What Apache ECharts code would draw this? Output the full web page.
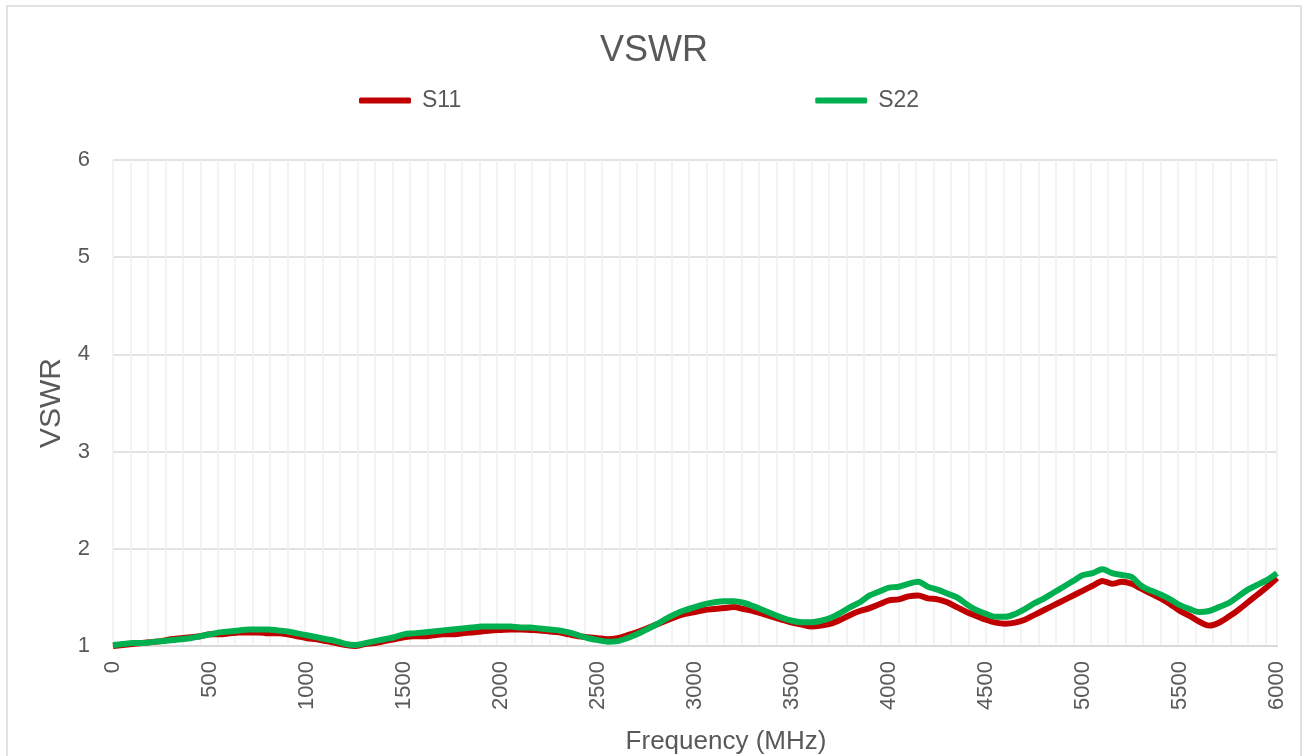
<!DOCTYPE html>
<html>
<head>
<meta charset="utf-8">
<script src="https://cdn.jsdelivr.net/npm/echarts@6/dist/echarts.min.js"></script>
<style>
html,body{margin:0;padding:0;background:#fff;}
#chart{width:1308px;height:756px;}
</style>
</head>
<body>
<div id="chart"></div>
<script>
// Frequency points (MHz), 50 MHz step
var freq = [];
for (var f = 0; f <= 6000; f += 50) freq.push(f);

var s11 = [
1.00,1.01,1.02,1.03,1.04,1.05,1.07,1.08,1.09,1.10,
1.12,1.12,1.13,1.14,1.14,1.14,1.13,1.13,1.12,1.10,
1.08,1.07,1.05,1.03,1.01,1.00,1.02,1.03,1.05,1.07,
1.09,1.10,1.10,1.11,1.12,1.12,1.13,1.14,1.15,1.16,
1.165,1.17,1.17,1.165,1.16,1.15,1.14,1.12,1.10,1.09,
1.08,1.07,1.08,1.11,1.14,1.18,1.22,1.26,1.30,1.33,
1.35,1.37,1.38,1.39,1.40,1.38,1.36,1.33,1.30,1.27,
1.24,1.22,1.20,1.21,1.23,1.27,1.32,1.36,1.39,1.43,
1.47,1.48,1.51,1.52,1.49,1.48,1.45,1.40,1.35,1.31,
1.27,1.24,1.23,1.24,1.27,1.32,1.37,1.42,1.47,1.52,
1.57,1.62,1.67,1.64,1.66,1.64,1.59,1.54,1.49,1.43,
1.36,1.31,1.25,1.21,1.24,1.30,1.37,1.45,1.53,1.61,
1.70
];

var s22 = [
1.01,1.02,1.03,1.03,1.04,1.05,1.06,1.07,1.08,1.10,
1.12,1.14,1.15,1.16,1.17,1.17,1.17,1.16,1.15,1.13,
1.11,1.09,1.07,1.05,1.02,1.01,1.03,1.05,1.07,1.09,
1.12,1.13,1.14,1.15,1.16,1.17,1.18,1.19,1.20,1.20,
1.20,1.20,1.19,1.19,1.18,1.17,1.16,1.14,1.11,1.08,
1.06,1.045,1.05,1.08,1.12,1.17,1.22,1.28,1.33,1.37,
1.40,1.43,1.45,1.46,1.46,1.445,1.41,1.37,1.33,1.29,
1.26,1.245,1.245,1.26,1.29,1.34,1.40,1.45,1.52,1.56,
1.60,1.61,1.64,1.66,1.61,1.58,1.54,1.50,1.43,1.37,
1.33,1.30,1.30,1.33,1.38,1.44,1.49,1.55,1.61,1.67,
1.73,1.75,1.79,1.75,1.73,1.71,1.62,1.57,1.53,1.48,
1.42,1.38,1.35,1.36,1.40,1.44,1.51,1.58,1.63,1.68,
1.75
];

var seriesNames = ['S11', 'S22'];
var seriesColors = ['#C00000', '#00B050'];

function pairs(vals) {
  return freq.map(function (x, i) { return [x, vals[i]]; });
}

var txt = '#595959';
var ff = 'Liberation Sans, Arial, sans-serif';
var chart = echarts.init(document.getElementById('chart'));
chart.setOption({
  animation: false,
  backgroundColor: '#ffffff',
  title: {
    text: 'VSWR',
    left: 'center',
    top: 28,
    textStyle: { color: txt, fontSize: 36, fontWeight: 'normal', fontFamily: ff }
  },
  graphic: [{
    type: 'rect',
    shape: { x: 7, y: 6, width: 1294, height: 760 },
    style: { fill: 'none', stroke: '#d9d9d9', lineWidth: 1.5 },
    silent: true,
    z: -10
  }],
  legend: {
    left: 354,
    top: 84,
    itemWidth: 52,
    itemHeight: 6,
    itemGap: 354,
    icon: 'roundRect',
    data: seriesNames,
    textStyle: { color: txt, fontSize: 23, fontFamily: ff, padding: [0, 0, 0, 6] }
  },
  grid: { left: 113, right: 31, top: 160, bottom: 110, containLabel: false, outerBoundsMode: 'none' },
  xAxis: [{
    type: 'value',
    min: 0, max: 6000, interval: 500,
    name: 'Frequency (MHz)',
    nameLocation: 'middle',
    nameGap: 83,
    nameTextStyle: { color: txt, fontSize: 26, fontFamily: ff, padding: [0, 0, 0, 62] },
    axisLine: { lineStyle: { color: '#d9d9d9', width: 2 } },
    axisTick: { show: false },
    splitLine: { show: false },
    axisLabel: {
      rotate: 90, margin: 15, color: txt, fontSize: 22, fontFamily: ff,
      formatter: function (v) { return String(v); }
    }
  }, {
    type: 'value',
    min: 0, max: 6000, interval: 90,
    position: 'bottom',
    axisLine: { show: false },
    axisTick: { show: false },
    axisLabel: { show: false },
    splitLine: { show: true, lineStyle: { color: '#efefef', width: 1.5 } }
  }],
  yAxis: {
    type: 'value',
    min: 1, max: 6, interval: 1,
    name: 'VSWR',
    nameLocation: 'middle',
    nameGap: 46,
    nameTextStyle: { color: txt, fontSize: 30, fontFamily: ff },
    axisLine: { show: false },
    axisTick: { show: false },
    axisLabel: { color: txt, fontSize: 22, margin: 23, fontFamily: ff },
    splitLine: { lineStyle: { color: '#d9d9d9', width: 1.5 } }
  },
  series: seriesNames.map(function (name, k) {
    return {
      name: name,
      type: 'line',
      xAxisIndex: 0,
      data: pairs(k === 0 ? s11 : s22),
      symbol: 'none',
      smooth: 0.3,
      lineStyle: { color: seriesColors[k], width: 6 },
      itemStyle: { color: seriesColors[k] },
      z: 2 + k
    };
  })
});
</script>
</body>
</html>
